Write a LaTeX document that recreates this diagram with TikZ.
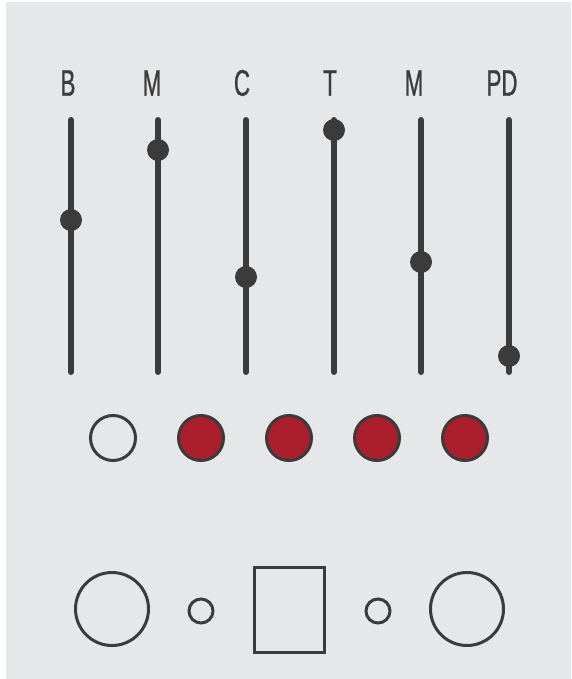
\documentclass[tikz,border=0pt]{standalone}
\usepackage{fontspec}
\newfontfamily\labfont[FakeStretch=0.6,FakeBold=0.8]{Liberation Sans}
\definecolor{bg}{HTML}{E6E7E9}
\definecolor{ink}{HTML}{3B3B3B}
\definecolor{led}{HTML}{AB1F2D}
\tikzset{
  track/.style={draw=ink, line width=6pt, line cap=round},
  knob/.style={circle, fill=ink, inner sep=0pt, minimum size=22pt},
  lbl/.style={text=ink, inner sep=0pt, font=\labfont\fontsize{37}{37}\selectfont},
  ledoff/.style={circle, draw=ink, line width=3pt, fill=bg, inner sep=0pt, minimum size=45pt},
  ledon/.style={ledoff, fill=led},
  jack/.style={circle, draw=ink, line width=3pt, inner sep=0pt},
}
\begin{document}
\begin{tikzpicture}[x=1pt,y=-1pt]
\useasboundingbox (0,0) rectangle (571,679);
\fill[white] (0,0) rectangle (571,679);
\fill[bg] (6,2) rectangle (571,679);
% labels
\node[lbl] (lB) at (68,83) {B};
\node[lbl] (lM1) at (152,83) {M};
\node[lbl] (lC) at (242,83) {C};
\node[lbl] (lT) at (330,83) {T};
\node[lbl] (lM2) at (414,83) {M};
\node[lbl] (lPD) at (502,83) {PD};
% tracks
\foreach \n/\x in {a/71,b/158,c/246,d/334,e/421,f/509}{
  \coordinate (\n top) at (\x,120);
  \coordinate (\n bot) at (\x,372);
  \draw[track] (\n top) -- (\n bot);
}
\node[knob] (ka) at (71,220) {};
\node[knob] (kb) at (158,150) {};
\node[knob] (kc) at (246,277) {};
\node[knob] (kd) at (334,130) {};
\node[knob] (ke) at (421,262) {};
\node[knob] (kf) at (509,356) {};
% leds
\node[ledoff] (l1) at (113,438) {};
\node[ledon] (l2) at (201,438) {};
\node[ledon] (l3) at (289,438) {};
\node[ledon] (l4) at (377,438) {};
\node[ledon] (l5) at (465,438) {};
% bottom
\node[jack, minimum size=73pt] (j1) at (112,609) {};
\node[jack, minimum size=24pt] (s1) at (201,611) {};
\node[draw=ink, line width=3pt, minimum width=70pt, minimum height=85pt, inner sep=0pt] (sq) at (289.5,610) {};
\node[jack, minimum size=24pt] (s2) at (378,611) {};
\node[jack, minimum size=73pt] (j2) at (467,609) {};
\end{tikzpicture}
\end{document}
